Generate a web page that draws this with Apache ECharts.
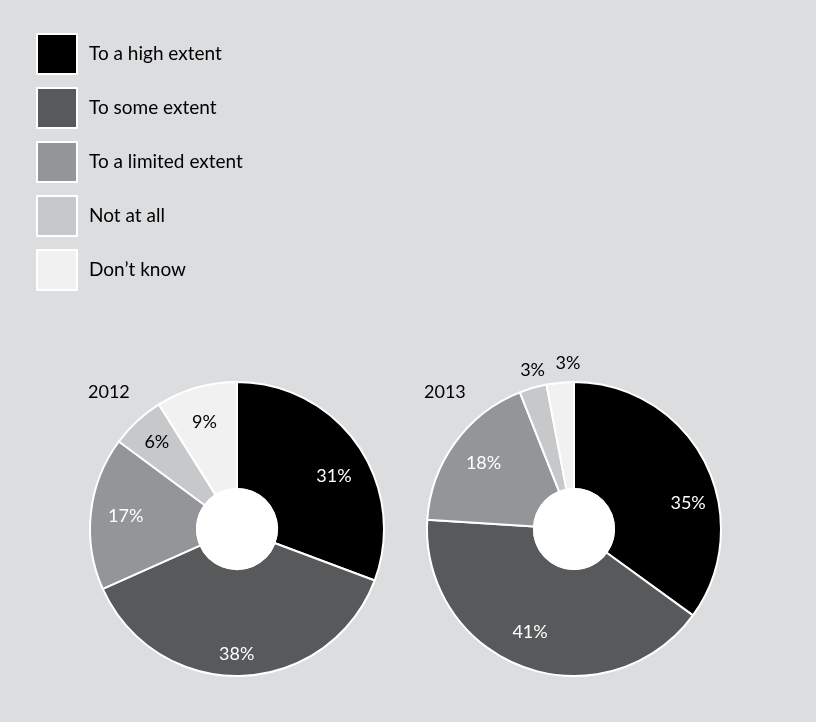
<!DOCTYPE html>
<html lang="en">
<head>
    <meta charset="UTF-8">
    <title>Extent by year</title>
    <script type="text/javascript" src="https://cdn.jsdelivr.net/npm/echarts@6/dist/echarts.min.js"></script>
    <style>
        html, body { margin: 0; padding: 0; background: #dcdddf; }
    </style>
</head>
<body>
<div id="pies" style="width:816px;height:722px"></div>
<script type="text/javascript">
    // answer categories, in drawing order (clockwise from 12 o'clock)
    var categories = ['To a high extent', 'To some extent', 'To a limited extent', 'Not at all', 'Don\u2019t know'];
    var years = ['2012', '2013'];
    var values2012 = [31, 38, 17, 6, 9];
    var values2013 = [35, 41, 18, 3, 3];

    var sliceColors = ['#000000', '#58595b', '#939598', '#c7c8ca', '#f1f1f2'];
    var labelColors = ['#ffffff', '#ffffff', '#ffffff', '#000000', '#000000'];
    // slices whose label sits outside the pie
    var outside2012 = [];
    var outside2013 = ['Not at all', 'Don\u2019t know'];
    // small nudges so labels sit where the original put them
    var nudge2012 = [[0, 14], [-4, 7], [6, 0], [0, 0], [0, 7]];
    var nudge2013 = [[9, 28], [-4, -8], [5, 4], [6, 4], [10, 3]];

    var font = 'Lato, "DejaVu Sans", sans-serif';
    var myChart = echarts.init(document.getElementById('pies'));

    function pieSeries(values, outside, nudge, centerX) {
        var center = [centerX, 529];
        var clear = {color: 'rgba(0,0,0,0)', borderWidth: 0};
        var common = {
            type: 'pie', center: center, startAngle: 90, clockwise: true,
            silent: true, avoidLabelOverlap: false, animation: false,
            emphasis: {disabled: true}, labelLine: {show: false}
        };
        //slices
        var slices = echarts.util.merge({
            radius: [40, 147],
            label: {show: false},
            itemStyle: {borderColor: '#ffffff', borderWidth: 2},
            data: values.map(function (v, i) {
                return {name: categories[i], value: v, itemStyle: {color: sliceColors[i]}};
            })
        }, common);
        //white hole in the middle
        var hole = echarts.util.merge({
            radius: [0, 41],
            label: {show: false},
            data: [{name: '', value: 1, itemStyle: {color: '#ffffff', borderWidth: 0}}]
        }, common);
        function labelRing(radius, wantOutside) {
            return echarts.util.merge({
                radius: radius,
                itemStyle: clear,
                data: values.map(function (v, i) {
                    var isOut = outside.indexOf(categories[i]) >= 0;
                    return {
                        name: categories[i], value: v, itemStyle: clear,
                        label: {
                            show: isOut === wantOutside,
                            position: 'inside',
                            formatter: '{c}%',
                            offset: nudge[i],
                            color: isOut ? '#000000' : labelColors[i],
                            fontFamily: font, fontSize: 18
                        }
                    };
                })
            }, common);
        }
        return [slices, hole, labelRing([83, 147], false), labelRing([150, 184], true)];
    }

    var series = [].concat(
        pieSeries(values2012, outside2012, nudge2012, 237),
        pieSeries(values2013, outside2013, nudge2013, 574)
    );

    myChart.setOption({
        backgroundColor: '#dcdddf',
        title: [
            {text: years[0], left: 88, top: 383, padding: 0,
                textStyle: {fontFamily: font, fontSize: 18, fontWeight: 'normal', color: '#000'}},
            {text: years[1], left: 424, top: 383, padding: 0,
                textStyle: {fontFamily: font, fontSize: 18, fontWeight: 'normal', color: '#000'}}
        ],
        legend: {
            orient: 'vertical', left: 36, top: 33, padding: 0,
            itemWidth: 40, itemHeight: 40, itemGap: 12, icon: 'rect',
            selectedMode: false,
            textStyle: {fontFamily: font, fontSize: 19, color: '#000', padding: [0, 0, 0, 7]},
            data: categories.map(function (c, i) {
                return {name: c, itemStyle: {color: sliceColors[i], borderColor: '#ffffff', borderWidth: 2}};
            })
        },
        series: series
    });
</script>
</body>
</html>
